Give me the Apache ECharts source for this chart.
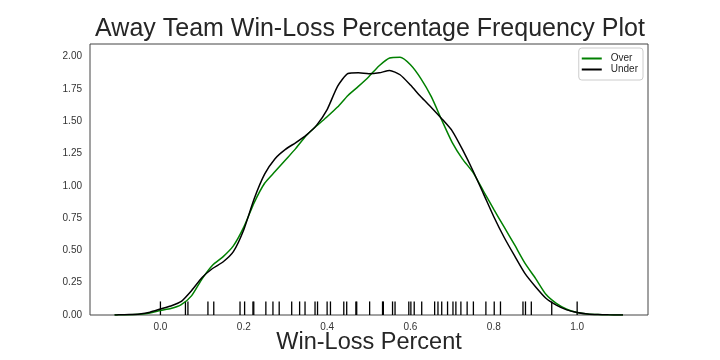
<!DOCTYPE html>
<html>
<head>
<meta charset="utf-8">
<script src="https://cdn.jsdelivr.net/npm/echarts@6/dist/echarts.min.js"></script>
<style>html,body{margin:0;padding:0;background:#fff}#c{width:720px;height:360px}</style>
</head>
<body>
<div id="c"></div>
<script>
const xGrid = [-0.11, -0.10, -0.075, -0.05, -0.025, 0.00, 0.025, 0.05, 0.075, 0.10, 0.125, 0.15, 0.175, 0.20, 0.225, 0.25, 0.275, 0.30, 0.325, 0.35, 0.375, 0.40, 0.425, 0.45, 0.475, 0.50, 0.525, 0.55, 0.575, 0.60, 0.625, 0.65, 0.675, 0.70, 0.725, 0.75, 0.775, 0.80, 0.825, 0.85, 0.875, 0.90, 0.925, 0.95, 0.975, 1.00, 1.025, 1.05, 1.075, 1.10, 1.11];
const overY = [0, 0.001, 0.002, 0.006, 0.016, 0.035, 0.05, 0.08, 0.15, 0.28, 0.385, 0.45, 0.535, 0.68, 0.87, 1.02, 1.11, 1.20, 1.29, 1.39, 1.465, 1.535, 1.61, 1.70, 1.77, 1.845, 1.93, 1.99, 1.995, 1.937, 1.83, 1.69, 1.51, 1.337, 1.207, 1.104, 0.96, 0.818, 0.68, 0.542, 0.40, 0.284, 0.16, 0.09, 0.045, 0.02, 0.008, 0.003, 0.001, 0.0003, 0];
const underY = [0, 0.001, 0.003, 0.008, 0.022, 0.046, 0.07, 0.105, 0.19, 0.29, 0.36, 0.41, 0.49, 0.66, 0.90, 1.09, 1.21, 1.282, 1.335, 1.393, 1.47, 1.59, 1.77, 1.87, 1.875, 1.868, 1.875, 1.893, 1.86, 1.78, 1.69, 1.607, 1.52, 1.426, 1.28, 1.117, 0.94, 0.761, 0.60, 0.457, 0.32, 0.219, 0.13, 0.077, 0.04, 0.02, 0.008, 0.003, 0.001, 0.0003, 0];
const rugValues = [0, 0.060, 0.066, 0.114, 0.128, 0.191, 0.202, 0.222, 0.224, 0.253, 0.270, 0.285, 0.315, 0.334, 0.347, 0.371, 0.377, 0.400, 0.408, 0.440, 0.447, 0.469, 0.471, 0.502, 0.533, 0.535, 0.557, 0.563, 0.596, 0.601, 0.609, 0.627, 0.658, 0.666, 0.675, 0.689, 0.702, 0.709, 0.721, 0.736, 0.751, 0.781, 0.801, 0.816, 0.870, 0.876, 0.890, 0.939, 1.0];
const xTicks = [0.0, 0.2, 0.4, 0.6, 0.8, 1.0];
const yTicks = [0.00, 0.25, 0.50, 0.75, 1.00, 1.25, 1.50, 1.75, 2.00];
const rugHeight = 0.105;

const chart = echarts.init(document.getElementById('c'));
const font = 'Liberation Sans, Arial, sans-serif';
chart.setOption({
  animation: false,
  title: {
    text: 'Away Team Win-Loss Percentage Frequency Plot',
    left: 365, top: 12, textAlign: 'center',
    textStyle: {fontFamily: font, fontSize: 25, fontWeight: 'normal', color: '#262626'}
  },
  legend: {
    orient: 'vertical', right: 77, top: 48,
    data: [{name: 'Over', icon: 'rect'}, {name: 'Under', icon: 'rect'}],
    itemWidth: 20, itemHeight: 2, itemGap: 0,
    borderColor: '#cccccc', borderWidth: 1, borderRadius: 3,
    padding: [5, 5, 5, 3],
    textStyle: {fontFamily: font, fontSize: 10, color: '#262626', lineHeight: 11, padding: [0, 0, 0, 4]}
  },
  grid: {left: 90, right: 72, top: 44, bottom: 45, outerBoundsMode: 'none', containLabel: false, show: true, borderColor: '#444', borderWidth: 1, backgroundColor: '#fff'},
  xAxis: {
    type: 'value', min: -0.169, max: 1.170,
    name: 'Win-Loss Percent', nameLocation: 'middle', nameGap: 28, nameMoveOverlap: false,
    nameTextStyle: {fontFamily: font, fontSize: 23.5, color: '#262626', verticalAlign: 'middle'},
    axisLine: {show: false}, axisTick: {show: false}, splitLine: {show: false},
    axisLabel: {customValues: xTicks, formatter: v => v.toFixed(1), fontFamily: font, fontSize: 10, color: '#333', margin: 7}
  },
  yAxis: {
    type: 'value', min: 0, max: 2.098,
    axisLine: {show: false}, axisTick: {show: false}, splitLine: {show: false},
    axisLabel: {customValues: yTicks, formatter: v => v.toFixed(2), fontFamily: font, fontSize: 10, color: '#333', margin: 8}
  },
  series: [
    {
      name: 'Over', type: 'line', smooth: 0.2, showSymbol: false,
      data: xGrid.map((x, i) => [x, overY[i]]),
      lineStyle: {color: '#008000', width: 1.5}, itemStyle: {color: '#008000'}
    },
    {
      name: 'Under', type: 'line', smooth: 0.2, showSymbol: false,
      data: xGrid.map((x, i) => [x, underY[i]]),
      lineStyle: {color: '#000000', width: 1.5}, itemStyle: {color: '#000000'}
    },
    {
      name: 'rug', type: 'custom',
      data: rugValues.map(v => [v]),
      renderItem: function (params, api) {
        const p0 = api.coord([api.value(0), 0]);
        const p1 = api.coord([api.value(0), rugHeight]);
        return {type: 'line', shape: {x1: p0[0], y1: p0[1], x2: p1[0], y2: p1[1]}, style: {stroke: '#000', lineWidth: 1.3}};
      },
      z: 1
    }
  ]
});
</script>
</body>
</html>
